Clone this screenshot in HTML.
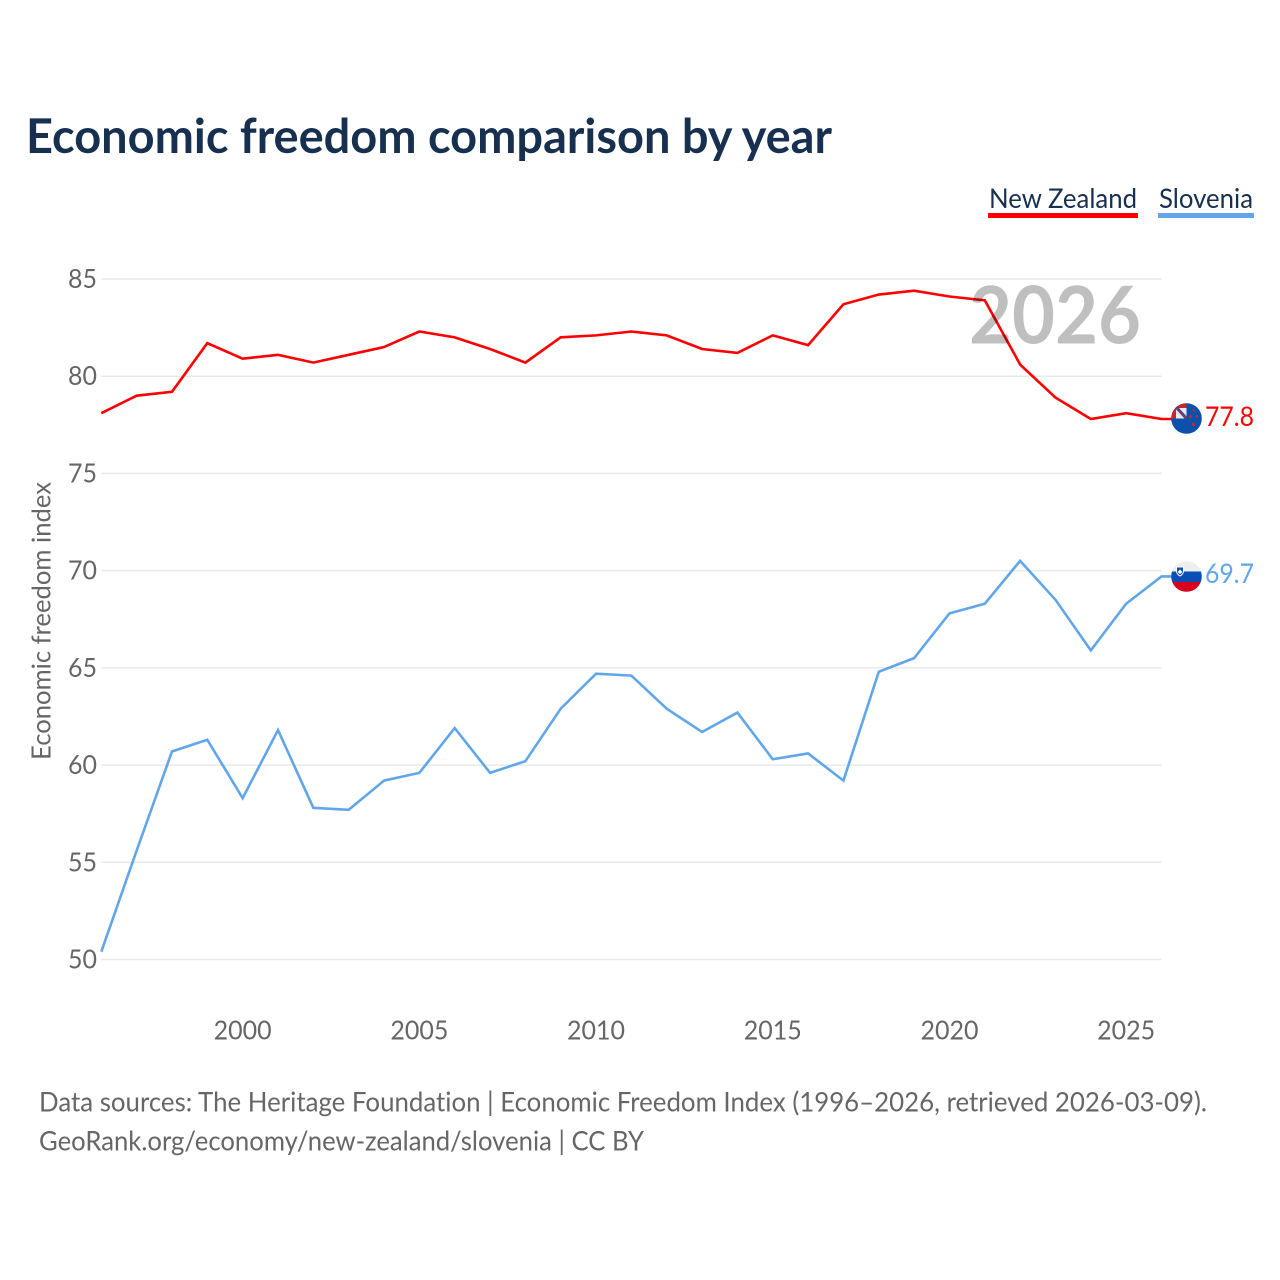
<!DOCTYPE html>
<html lang="en">
<head>
<meta charset="utf-8">
<title>Economic freedom comparison by year</title>
<style>
html,body{margin:0;padding:0;background:#fff;}
svg{display:block;}
text{font-family:"Lato","Carlito","Liberation Sans",sans-serif;font-variant-ligatures:none;}
</style>
</head>
<body>
<svg id="chart" xmlns="http://www.w3.org/2000/svg" width="1280" height="1280" viewBox="0 0 1280 1280">
  <defs>
    <clipPath id="nz-clip"><circle cx="1186.500" cy="418.500" r="15.300"/></clipPath>
    <clipPath id="si-clip"><circle cx="1186.500" cy="576.500" r="15.300"/></clipPath>
    <clipPath id="nz-canton"><rect x="1171" y="403" width="15.500" height="15.500"/></clipPath>
  </defs>
  <rect width="1280" height="1280" fill="#fff"/>
  <text x="26" y="153" font-size="48" font-weight="700" fill="#17304f" textLength="806" lengthAdjust="spacingAndGlyphs">Economic freedom comparison by year</text>

  <g>
    <text x="989" y="208" font-size="27" fill="#17304f" textLength="148" lengthAdjust="spacingAndGlyphs">New Zealand</text>
    <rect x="988" y="213" width="150" height="5" fill="#ff0000"/>
    <text x="1159" y="208" font-size="27" fill="#17304f" textLength="94" lengthAdjust="spacingAndGlyphs">Slovenia</text>
    <rect x="1158" y="213" width="96" height="5" fill="#62a6ea"/>
  </g>

  <g id="grid"></g>
  <g id="yticks"></g>
  <g id="xticks"></g>
  <text transform="translate(50.500,621) rotate(-90)" text-anchor="middle" font-size="26.500" fill="#666" textLength="278" lengthAdjust="spacingAndGlyphs">Economic freedom index</text>

  <g id="series"></g>

  <text x="969" y="343.500" font-size="80" font-weight="700" fill="#000" fill-opacity="0.25" textLength="172" lengthAdjust="spacingAndGlyphs">2026</text>

  <g>
    <g clip-path="url(#nz-clip)">
      <rect x="1171" y="403" width="31" height="31" fill="#0b50ab"/>
      <g clip-path="url(#nz-canton)">
        <rect x="1171" y="403" width="15.500" height="15.500" fill="#c9242f"/>
        <rect x="1176" y="408" width="10.500" height="10.500" fill="#e8e8ee"/>
        <path d="M1176 407 L1186.500 418.500" stroke="#1a4fa0" stroke-width="3"/>
        <path d="M1177 408 L1186.500 418.500" stroke="#d8202c" stroke-width="1.200"/>
      </g>
      <circle cx="1190.500" cy="416.500" r="1.500" fill="#d8202c"/>
      <circle cx="1197" cy="416.500" r="1.200" fill="#d8202c"/>
      <circle cx="1193.500" cy="410.500" r="1.200" fill="#d8202c"/>
      <circle cx="1193.500" cy="424.500" r="1.600" fill="#d8202c"/>
    </g>
  </g>
  <g>
    <g clip-path="url(#si-clip)">
      <rect x="1171" y="561" width="31" height="10.500" fill="#eeeeee"/>
      <rect x="1171" y="571.500" width="31" height="10.500" fill="#0b4fb5"/>
      <rect x="1171" y="582" width="31" height="10" fill="#d8001c"/>
      <path d="M1176.500 567 h7 v4 q0 3 -3.500 5 q-3.500 -2 -3.500 -5 z" fill="#0b4fb5" stroke="#fff" stroke-width="1"/>
      <path d="M1178 571.500 l2 -2 l2 2 l0 1 l-2 1.500 l-2 -1.500 z" fill="#fff"/>
    </g>
  </g>
  <text id="nz-value" x="1205" y="426" font-size="27" fill="#ff0000" textLength="49" lengthAdjust="spacingAndGlyphs"></text>
  <text id="si-value" x="1205" y="583" font-size="27" fill="#62a6ea" textLength="49" lengthAdjust="spacingAndGlyphs"></text>

  <text x="39" y="1111.500" font-size="27" fill="#666" textLength="1168" lengthAdjust="spacingAndGlyphs">Data sources: The Heritage Foundation | Economic Freedom Index (1996–2026, retrieved 2026-03-09).</text>
  <text x="39" y="1150.500" font-size="27" fill="#666" textLength="605" lengthAdjust="spacingAndGlyphs">GeoRank.org/economy/new-zealand/slovenia | CC BY</text>
</svg>
<script>
const years = [1996,1997,1998,1999,2000,2001,2002,2003,2004,2005,2006,2007,2008,2009,2010,2011,2012,2013,2014,2015,2016,2017,2018,2019,2020,2021,2022,2023,2024,2025,2026];
const newZealand = [78.1,79.0,79.2,81.7,80.9,81.1,80.7,81.1,81.5,82.3,82.0,81.4,80.7,82.0,82.1,82.3,82.1,81.4,81.2,82.1,81.6,83.7,84.2,84.4,84.1,83.9,80.6,78.9,77.8,78.1,77.8];
const slovenia = [50.4,55.6,60.7,61.3,58.3,61.8,57.8,57.7,59.2,59.6,61.9,59.6,60.2,62.9,64.7,64.6,62.9,61.7,62.7,60.3,60.6,59.2,64.8,65.5,67.8,68.3,70.5,68.5,65.9,68.3,69.7];
const yTicks = [50,55,60,65,70,75,80,85];
const xTicks = [2000,2005,2010,2015,2020,2025];

const NS = 'http://www.w3.org/2000/svg';
function xScale(year){ return 101.3 + (year - 1996) * (1161.5 - 101.3) / 30; }
function yScale(v){ return 959.5 - (v - 50) * (959.5 - 279) / 35; }

const gridGroup = document.getElementById('grid');
const yTickGroup = document.getElementById('yticks');
const xTickGroup = document.getElementById('xticks');
const seriesGroup = document.getElementById('series');

yTicks.forEach(function(t){
  const line = document.createElementNS(NS, 'line');
  
  
  line.setAttribute('x1', xScale(1996));
  line.setAttribute('x2', xScale(2026));
  line.setAttribute('y1', yScale(t));
  line.setAttribute('y2', yScale(t));
  line.setAttribute('stroke', '#e9e9e9');
  line.setAttribute('stroke-width', '1.5');
  gridGroup.appendChild(line);

  const label = document.createElementNS(NS, 'text');
  
  
  label.setAttribute('x', '97');
  label.setAttribute('y', yScale(t) + 9);
  label.setAttribute('text-anchor', 'end');
  label.setAttribute('font-size', '26.5');
  label.setAttribute('fill', '#666');
  label.setAttribute('textLength', '29');
  label.setAttribute('lengthAdjust', 'spacingAndGlyphs');
  label.textContent = t;
  yTickGroup.appendChild(label);
});

xTicks.forEach(function(t){
  const label = document.createElementNS(NS, 'text');
  
  
  label.setAttribute('x', xScale(t));
  label.setAttribute('y', '1039.5');
  label.setAttribute('text-anchor', 'middle');
  label.setAttribute('font-size', '26.5');
  label.setAttribute('fill', '#666');
  label.setAttribute('textLength', '58');
  label.setAttribute('lengthAdjust', 'spacingAndGlyphs');
  label.textContent = t;
  xTickGroup.appendChild(label);
});

function pathFor(values){
  const marks = values.map(function(v, i){
    return (i ? 'L' : 'M') + xScale(years[i]).toFixed(2) + ' ' + yScale(v).toFixed(2);
  });
  const last = values[values.length - 1];
  marks.push('L1172 ' + yScale(last).toFixed(2));
  return marks.join(' ');
}

const sloveniaLine = document.createElementNS(NS, 'path');


sloveniaLine.setAttribute('d', pathFor(slovenia));
sloveniaLine.setAttribute('fill', 'none');
sloveniaLine.setAttribute('stroke', '#62a6ea');
sloveniaLine.setAttribute('stroke-width', '2.6');
seriesGroup.appendChild(sloveniaLine);

const nzLine = document.createElementNS(NS, 'path');


nzLine.setAttribute('d', pathFor(newZealand));
nzLine.setAttribute('fill', 'none');
nzLine.setAttribute('stroke', '#ff0000');
nzLine.setAttribute('stroke-width', '2.6');
seriesGroup.appendChild(nzLine);

document.getElementById('nz-value').textContent = newZealand[newZealand.length - 1].toFixed(1);
document.getElementById('si-value').textContent = slovenia[slovenia.length - 1].toFixed(1);
</script>
</body>
</html>
